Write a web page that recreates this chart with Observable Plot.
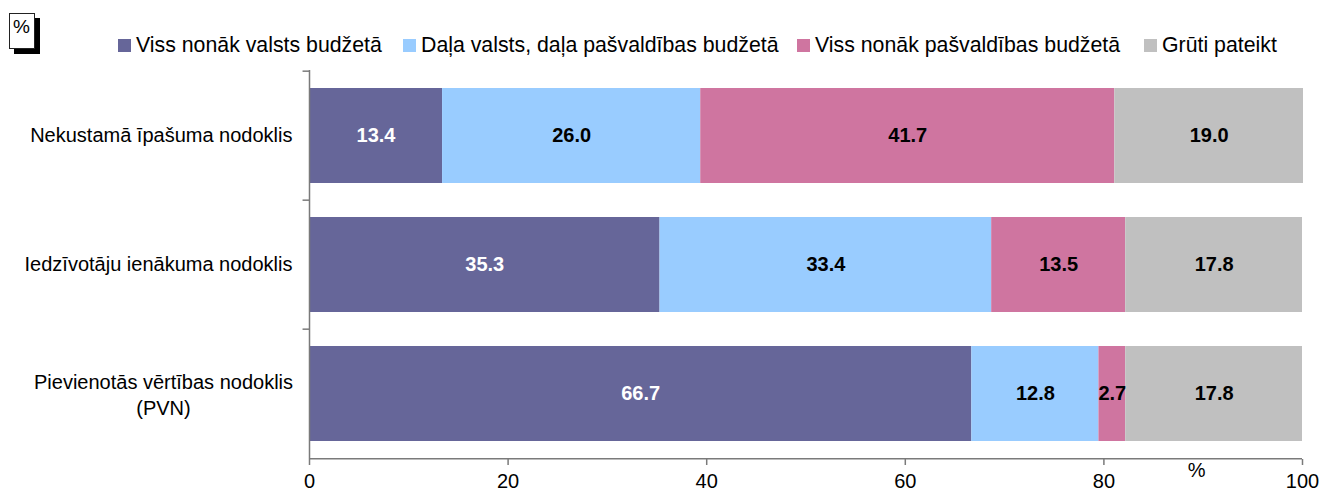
<!DOCTYPE html>
<html>
<head>
<meta charset="utf-8">
<script src="https://cdn.jsdelivr.net/npm/d3@7"></script>
<script src="https://cdn.jsdelivr.net/npm/@observablehq/plot@0.6"></script>
<style>
  body { margin: 0; background: #fff; font-family: "Liberation Sans", Arial, sans-serif; }
  #wrap { position: relative; width: 1323px; height: 498px; }
  #legend { position: relative; height: 60px; }
  .item { position: absolute; top: 33px; height: 24px; display: flex; align-items: center; font-size: 21.3px; color: #000; white-space: nowrap; }
  .sw { width: 13px; height: 13px; margin-right: 5px; flex: none; }
  #pct { position: absolute; left: 9px; top: 13px; width: 26px; height: 36px; box-sizing: border-box; border: 1px solid #222; background: #fff; box-shadow: 5px 5px 0 #000; font-size: 19px; padding: 3px 0 0 3px; line-height: 1; }
  #chart svg { display: block; }
</style>
</head>
<body>
<div id="wrap">
  <div id="legend"><div id="pct">%</div></div>
  <div id="chart"></div>
</div>
<script>
// ---- data ----
const categories = [
  "Nekustamā īpašuma nodoklis",
  "Iedzīvotāju ienākuma nodoklis",
  "Pievienotās vērtības nodoklis (PVN)"
];
const categoryLabels = [
  "Nekustamā īpašuma nodoklis",
  "Iedzīvotāju ienākuma nodoklis",
  "Pievienotās vērtības nodoklis\n(PVN)"
];
const seriesNames = [
  "Viss nonāk valsts budžetā",
  "Daļa valsts, daļa pašvaldības budžetā",
  "Viss nonāk pašvaldības budžetā",
  "Grūti pateikt"
];
const vissValsts = [13.4, 35.3, 66.7];
const dalaValstsDalaPasvaldibas = [26.0, 33.4, 12.8];
const vissPasvaldibas = [41.7, 13.5, 2.7];
const grutiPateikt = [19.0, 17.8, 17.8];
const xTicks = [0, 20, 40, 60, 80, 100];
const seriesColors = ["#666699", "#99ccff", "#cf75a0", "#c0c0c0"];
const legendLefts = [118, 403, 797, 1144];

// ---- table ----
const seriesValues = [vissValsts, dalaValstsDalaPasvaldibas, vissPasvaldibas, grutiPateikt];
const rows = [];
categories.forEach((c, i) => {
  seriesNames.forEach((s, j) => {
    rows.push({cat: c, series: s, value: seriesValues[j][i]});
  });
});

// ---- legend ----
const legend = document.getElementById("legend");
seriesNames.forEach((s, j) => {
  const it = document.createElement("div");
  it.className = "item";
  it.style.left = legendLefts[j] + "px";
  const sw = document.createElement("div");
  sw.className = "sw";
  sw.style.background = seriesColors[j];
  const t = document.createElement("span");
  t.textContent = s;
  it.appendChild(sw); it.appendChild(t);
  legend.appendChild(it);
});

// ---- chart ----
const pI = 0.26, pO = 0.13;
const mTop = 10, mBottom = 39, H = 438;
const step = (H - mTop - mBottom) / (categories.length - pI + 2 * pO);
const axisColor = "#7a7a7a";

const chart = Plot.plot({
  width: 1323,
  height: H,
  marginTop: mTop,
  marginBottom: mBottom,
  marginLeft: 309,
  marginRight: 21,
  style: {fontFamily: "'Liberation Sans', Arial, sans-serif", fontSize: "20px", color: "#000", background: "#fff"},
  x: {domain: [0, 100], axis: null},
  y: {domain: categories, paddingInner: pI, paddingOuter: pO, axis: null},
  color: {domain: seriesNames, range: seriesColors},
  marks: [
    Plot.barX(rows, {x: "value", y: "cat", fill: "series"}),
    Plot.text(rows, Plot.stackX({
      x: "value", y: "cat", z: "series",
      text: d => d.value.toFixed(1),
      fill: d => d.series === seriesNames[0] ? "white" : "black",
      fontWeight: "bold", fontSize: 20
    })),
    // y axis line and ticks at band boundaries
    Plot.ruleX([0], {stroke: axisColor, strokeWidth: 1.5}),
    Plot.ruleY(categories, {y: d => d, dy: -step / 2, x1: -0.65, x2: 0, stroke: axisColor, strokeWidth: 1.5}),
    // x axis line
    Plot.ruleY([categories[categories.length - 1]], {dy: step / 2, stroke: axisColor, strokeWidth: 1.5}),
    Plot.axisX(xTicks, {tickSize: 6, tickPadding: 8, stroke: axisColor, strokeWidth: 1.5, fill: "black", fontSize: 20, label: null}),
    // category labels
    Plot.text(categories.slice(0, 2), {y: d => d, text: (d, i) => categoryLabels[i], frameAnchor: "left", dx: -17, textAnchor: "end", fontSize: 20, fill: "black"}),
    Plot.text(categories.slice(2), {y: d => d, text: () => categoryLabels[2], frameAnchor: "left", dx: -146, textAnchor: "middle", lineHeight: 1.3, fontSize: 20, fill: "black"}),
    // unit label near the x axis
    Plot.text(["%"], {frameAnchor: "bottom-right", dx: -97, dy: 17, fontSize: 20, fill: "black"})
  ]
});
document.getElementById("chart").appendChild(chart);
</script>
</body>
</html>
